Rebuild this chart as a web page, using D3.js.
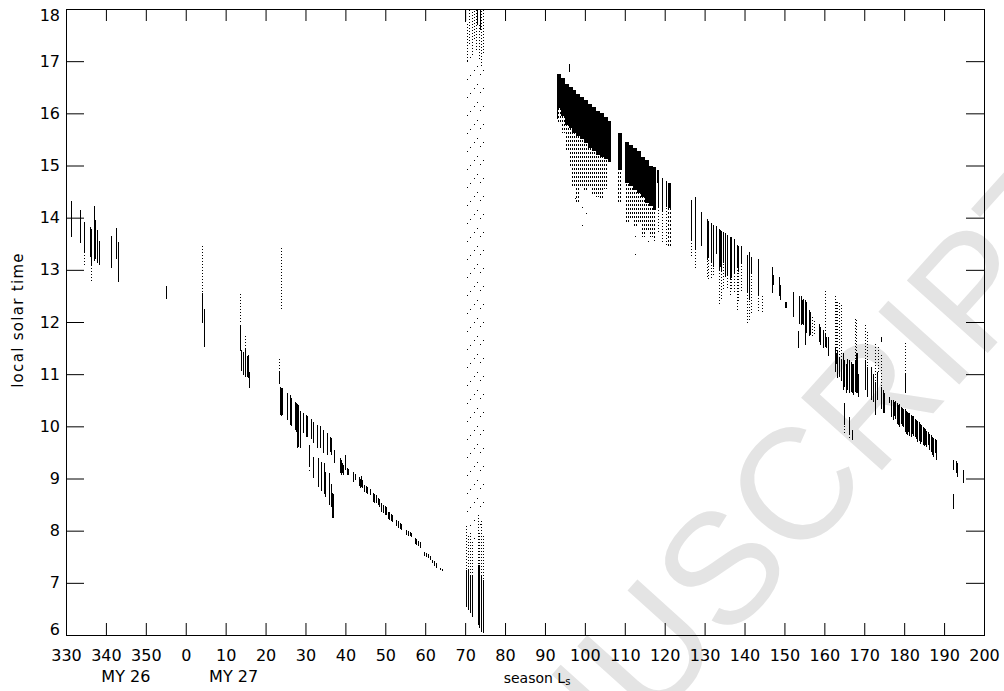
<!DOCTYPE html>
<html>
<head>
<meta charset="utf-8">
<style>
  body { margin: 0; background: #fff; }
  svg { display: block; }
</style>
<script src="https://d3js.org/d3.v7.min.js"></script>
</head>
<body>
<svg width="1004" height="691"></svg>
<script>
// Ls >= 330 belongs to MY 26, everything else to MY 27
var lsTicks = d3.range(-30, 201, 10);
var lstTicks = d3.range(6, 19, 1);
var yearLabels = [["MY 26", 345], ["MY 27", 12]];

// single observation columns: [Ls, LST top, LST bottom]
var solid = [
  [331.2,14.32,13.63],[333.5,14.15,13.52],[334.5,13.92,13.35],[336.0,13.83,13.25],[336.3,13.78,13.1],
  [337.0,14.22,13.16],[337.3,13.95,13.2],[337.7,13.76,13.13],[338.2,13.55,13.09],[341.2,13.65,13.03],
  [342.5,13.8,13.2],[343.0,13.54,12.77],[355.0,12.69,12.44],
  [4.0,12.56,11.99],[4.5,12.25,11.53],[13.5,11.94,11.45],[13.8,11.46,11.07],[14.3,11.43,10.98],
  [14.8,11.5,10.95],[15.3,11.34,10.95],[15.5,11.36,10.92],[15.8,11.05,10.73],
  [23.3,11.05,10.82],[23.5,10.76,10.22],[23.75,10.73,10.2],[24.0,10.74,10.22],
  [25.3,10.64,10.12],[26.0,10.6,10.03],[26.3,10.55,10.0],[27.3,10.47,9.93],[27.6,10.45,9.9],
  [28.0,10.42,9.58],[28.2,10.4,9.6],[28.7,10.3,9.58],[29.4,10.25,9.87],[30.2,10.22,9.8],[30.5,10.2,9.8],
  [30.8,9.64,9.22],[31.3,10.15,9.75],[31.8,9.42,9.01],[31.9,10.09,9.68],[32.9,10.03,9.58],[33.2,9.4,8.84],
  [33.6,10.0,9.58],[33.8,9.32,8.76],[34.4,9.93,9.49],[34.6,9.3,8.7],[35.0,9.13,8.65],[35.4,9.87,9.45],
  [35.8,9.1,8.5],[36.1,9.8,9.5],[36.4,9.78,9.45],[36.3,8.9,8.45],[36.7,8.72,8.24],[36.95,8.7,8.24],
  [37.2,9.55,9.3],[38.6,9.4,9.1],[38.9,9.35,9.07],[39.2,9.3,9.1],[39.4,9.25,9.07],[40.0,9.45,9.16],
  [40.4,9.2,9.07],[40.6,9.18,9.07],[41.9,9.13,8.94],[42.4,9.08,8.98],[43.4,9.03,8.85],[43.7,9.0,8.82],
  [44.0,9.05,8.84],[44.2,8.98,8.81],[44.6,8.88,8.75],[45.1,8.85,8.72],[45.4,8.83,8.7],[46.1,8.8,8.68],
  [46.9,8.72,8.55],[47.2,8.7,8.53],[47.6,8.68,8.53],[48.1,8.62,8.5],[48.5,8.6,8.45],[49.0,8.53,8.35],
  [49.4,8.5,8.33],[49.8,8.48,8.3],[50.2,8.45,8.3],[50.7,8.36,8.22],[51.0,8.35,8.2],[51.4,8.32,8.18],
  [51.8,8.3,8.17],[52.8,8.2,8.08],[53.2,8.18,8.05],[53.6,8.15,8.03],[54.0,8.12,8.01],[55.3,8.01,7.92],
  [55.7,7.99,7.9],[56.1,7.97,7.89],[56.5,7.95,7.87],[57.4,7.86,7.75],[57.8,7.84,7.72],[58.2,7.8,7.7],
  [58.6,7.78,7.67],[59.6,7.6,7.52],[60.1,7.58,7.5],[60.6,7.55,7.47],[61.1,7.52,7.44],[61.6,7.44,7.38],
  [62.2,7.42,7.33],[62.8,7.38,7.28],[63.6,7.28,7.24],[64.3,7.26,7.22],
  [70.0,18,17.75],[70.3,7.25,6.54],[70.8,7.25,6.48],[71.3,7.15,6.42],[71.8,7.15,6.35],[73.0,18,17.7],
  [73.1,7.34,6.19],[73.6,7.34,6.13],[73.8,18,17.6],[74.1,7.15,6.06],[74.4,7.05,6.04],
  [93.1,16.1,15.9],[96.0,16.95,16.8],
  [118.3,14.66,14.2],[119.2,14.76,14.1],[120.4,14.7,14.2],
  [126.7,14.34,13.57],[127.5,14.4,13.38],[129.2,14.1,13.46],[130.5,13.97,13.19],[130.9,13.94,13.25],
  [131.7,13.9,13.13],[132.1,13.86,13.06],[132.8,13.84,13.31],[133.6,13.79,13.0],[133.9,13.77,13.05],
  [134.2,13.75,12.95],[134.6,13.73,13.13],[135.0,13.7,12.87],[135.7,13.67,12.9],[136.3,13.63,12.8],
  [136.6,13.62,12.85],[137.3,13.6,12.93],[138.0,13.48,13.03],[138.4,13.46,12.95],[139.2,13.46,13.13],
  [140.6,13.28,12.55],[141.0,13.35,12.42],[141.5,13.25,12.93],[143.5,13.21,12.49],[146.9,13.05,12.55],
  [147.1,12.9,12.7],[148.7,12.86,12.49],[149.0,12.71,12.42],[150.1,12.39,12.26],[150.5,12.39,12.26],
  [152.2,12.58,12.1],[153.4,11.82,11.5],[153.7,12.49,11.97],[154.1,12.49,11.94],[154.4,12.42,11.97],
  [154.7,12.45,11.94],[155.1,12.42,11.56],[155.5,12.39,11.78],[156.2,12.23,11.73],[156.5,12.2,11.75],
  [158.6,11.97,11.62],[159.0,11.9,11.55],[159.6,11.84,11.5],
  [160.2,11.78,11.53],[160.5,11.72,11.5],[160.9,11.72,11.34],[162.6,11.5,11.05],[162.9,11.4,11.2],
  [163.2,11.45,10.92],[163.7,11.33,10.95],[164.1,11.27,10.86],[164.6,11.4,10.7],[165.0,11.27,10.76],
  [165.0,10.44,10.02],[165.4,11.2,10.63],[165.8,11.3,10.7],[166.3,11.27,10.63],[166.3,10.18,9.86],
  [166.6,11.24,10.66],[166.9,11.2,10.63],[166.9,9.93,9.73],[167.2,11.2,10.6],[167.6,11.27,10.65],
  [167.9,11.4,10.63],[168.2,11.4,10.63],[168.5,11.0,10.56],[170.3,11.27,10.7],[170.7,11.14,10.56],
  [171.8,11.14,10.5],[172.3,11.0,10.47],[172.8,10.85,10.21],[173.2,11.05,10.5],[174.1,11.72,11.62],
  [174.1,10.76,10.34],[174.6,10.7,10.25],[175.0,10.63,10.25],[176.1,10.57,10.44],[176.8,10.5,10.18],
  [177.2,10.5,10.12],[177.5,10.47,10.2],[177.8,10.48,10.15],[178.2,10.44,10.05],[178.5,10.4,10.02],
  [178.8,10.42,9.99],[179.1,10.38,10.05],[179.4,10.35,10.0],[179.7,10.33,9.98],[180.1,10.34,9.9],
  [180.4,10.3,9.85],[180.7,10.28,9.83],[181.0,10.25,9.9],[181.3,10.25,9.82],[181.6,10.22,9.8],
  [181.9,10.2,9.85],[182.2,10.2,9.82],[182.6,10.15,9.8],[183.0,10.12,9.75],[183.3,10.1,9.7],
  [183.6,10.08,9.72],[183.9,10.05,9.67],[184.2,10.02,9.7],[184.6,9.99,9.65],[184.9,9.97,9.62],
  [185.2,9.95,9.64],[185.5,9.92,9.61],[185.9,9.9,9.65],[186.3,9.86,9.55],[186.6,9.83,9.5],
  [186.9,9.8,9.45],[187.3,9.78,9.41],[187.6,9.75,9.48],
  [180.2,11.01,10.63],[188.0,9.73,9.35],[192.2,9.35,9.16],[192.3,8.71,8.42],[192.9,9.33,9.1],
  [193.3,9.3,9.03],[194.8,9.16,8.92]
];

var dotted = [
  [334.5,13.35,13.06],[336.2,13.25,12.78],[4.0,13.48,12.56],[13.6,12.54,12.0],[14.8,11.77,11.5],
  [23.3,11.31,11.05],[23.8,13.42,12.23],[30.8,9.2,9.1],
  [70.3,8.1,7.25],[70.8,7.9,7.25],[71.3,8.0,7.15],[71.8,7.8,7.15],[73.1,8.3,7.34],[73.6,8.0,7.34],
  [74.1,8.2,7.15],[74.4,7.9,7.05],
  [70.4,17.75,17.0],[71.0,18,17.3],[71.6,18,17.1],[72.2,18,17.4],[72.8,18,17.2],[73.4,17.7,17.0],
  [74.0,18,16.9],[74.6,18,17.2],
  [118.3,14.2,13.7],[119.2,14.1,13.54],[120.4,14.2,13.44],
  [126.7,13.57,13.25],[127.5,13.38,13.03],[130.5,13.19,12.84],[130.9,13.25,12.8],[131.7,13.13,12.8],
  [132.1,13.06,12.9],[133.6,13.0,12.3],[134.2,12.95,12.4],[134.6,13.13,12.61],[135.7,12.9,12.65],
  [136.3,12.8,12.52],[136.6,12.85,12.6],[137.3,12.93,12.58],[138.0,13.03,12.23],[138.4,12.95,12.4],
  [139.2,13.13,12.58],[140.6,12.55,11.97],[141.0,12.42,12.04],[141.5,12.93,12.13],[143.5,12.49,12.17],
  [144.5,12.52,12.17],[157.0,12.1,11.72],[157.4,12.05,11.75],
  [160.2,12.61,11.78],[162.6,12.49,11.5],[162.9,12.43,11.4],[163.2,12.4,11.45],[163.7,12.36,11.33],
  [164.1,12.36,11.27],[165.0,10.02,9.86],[166.3,9.86,9.73],[167.6,12.1,11.27],[167.9,12.06,11.4],
  [170.3,11.94,11.27],[170.7,11.84,11.14],[172.8,11.59,10.85],[173.5,11.52,11.0],[174.1,11.4,10.76],
  [180.2,11.62,11.01]
];

// thinly scattered single retrievals
var sparse = [
  [70.5,17.0,8.1],[71.3,17.3,8.0],[72.1,16.9,7.8],[72.9,17.2,8.3],[73.7,16.9,8.0],[74.5,17.2,8.2],
  [97.6,14.6,14.2],[99.3,14.3,13.7],[100.3,14.4,13.8],[112.5,13.83,13.19],[115.7,13.6,13.3]
];

// tight clusters: [Ls from, Ls to, LST top, LST bottom]
var blocks = [
  [92.9,93.9,16.75,16.1],[93.9,94.9,16.68,15.95],[94.9,95.9,16.57,15.78],[95.9,96.9,16.5,15.72],
  [96.9,97.9,16.45,15.62],[97.9,98.9,16.38,15.56],[98.9,99.9,16.32,15.5],[99.9,100.9,16.25,15.43],
  [100.9,101.9,16.18,15.33],[101.9,102.9,16.13,15.27],[102.9,103.9,16.04,15.2],[103.9,104.9,16.0,15.17],
  [104.9,105.9,15.93,15.12],[105.9,106.7,15.86,15.07],
  [108.3,109.3,15.62,14.91],[110.0,111.0,15.46,14.66],[111.0,112.0,15.39,14.6],[112.0,113.0,15.33,14.53],
  [113.0,114.0,15.27,14.47],[114.0,115.0,15.17,14.4],[115.0,116.0,15.1,14.28],[116.0,117.0,15.0,14.22],
  [117.0,117.7,14.97,14.15],[118.1,118.6,14.91,14.66],[120.8,121.6,14.66,14.19]
];

var dottedBlocks = [
  [92.9,93.9,16.1,15.84],[93.9,94.9,15.95,15.62],[94.9,95.9,15.78,15.3],[95.9,96.9,15.72,14.98],
  [96.9,97.9,15.62,14.6],[97.9,98.9,15.56,14.3],[98.9,99.9,15.5,14.6],[99.9,100.9,15.43,14.5],
  [100.9,101.9,15.33,14.6],[101.9,102.9,15.27,14.45],[102.9,103.9,15.2,14.4],[103.9,104.9,15.17,14.38],
  [104.9,105.9,15.12,14.55],
  [108.3,109.3,14.91,14.28],[110.0,111.0,14.66,13.9],[111.0,112.0,14.6,14.0],[112.0,113.0,14.53,13.83],
  [113.0,114.0,14.47,13.9],[114.0,115.0,14.4,13.63],[115.0,116.0,14.28,13.72],[116.0,117.0,14.22,13.63],
  [117.0,117.7,14.15,13.55],[120.8,121.6,14.19,13.44]
];

var svg = d3.select("svg");
var font = "DejaVu Sans, sans-serif";

var x = d3.scaleLinear().domain([-30, 200]).range([66, 984]);
var y = d3.scaleLinear().domain([6, 18]).range([635, 9]);
function unwrap(ls) { return ls >= 330 ? ls - 360 : ls; }
function px(ls) { return Math.round(x(unwrap(ls))) + 0.5; }

// watermark behind everything
var wm = svg.append("text")
    .attr("font-family", "Liberation Sans, Arial, sans-serif")
    .attr("font-size", 158)
    .attr("fill", "#e4e4e4")
    .text("MANUSCRIPT");
var skip = wm.node().getSubStringLength(0, 3);
wm.attr("x", -skip).attr("transform", "translate(650,728) rotate(-48)");

var defs = svg.append("defs");
defs.append("pattern")
    .attr("id", "dots")
    .attr("patternUnits", "userSpaceOnUse")
    .attr("width", 2).attr("height", 4)
  .append("rect")
    .attr("width", 1).attr("height", 2).attr("fill", "#000");

var g = svg.append("g").attr("shape-rendering", "crispEdges");

g.selectAll(".blk")
  .data(blocks)
  .enter().append("rect")
    .attr("x", function(d) { return Math.round(x(d[0])); })
    .attr("width", function(d) { return Math.max(1, Math.round(x(d[1]) - x(d[0]))); })
    .attr("y", function(d) { return y(d[2]); })
    .attr("height", function(d) { return y(d[3]) - y(d[2]); })
    .attr("fill", "#000");

g.selectAll(".dblk")
  .data(dottedBlocks)
  .enter().append("rect")
    .attr("x", function(d) { return Math.round(x(d[0])); })
    .attr("width", function(d) { return Math.max(1, Math.round(x(d[1]) - x(d[0]))); })
    .attr("y", function(d) { return y(d[2]); })
    .attr("height", function(d) { return y(d[3]) - y(d[2]); })
    .attr("fill", "url(#dots)");

function columns(data, dash, step) {
  g.append("g").selectAll("line")
    .data(data)
    .enter().append("line")
      .attr("x1", function(d) { return px(d[0]); })
      .attr("x2", function(d) { return px(d[0]); })
      .attr("y1", function(d) { return y(d[1]); })
      .attr("y2", function(d) { return Math.max(y(d[2]), y(d[1]) + 1); })
      .attr("stroke", "#000")
      .attr("stroke-width", 1)
      .attr("stroke-dasharray", dash)
      .attr("stroke-dashoffset", function(d, i) { return i * step; });
}
columns(solid, null, 0);
columns(dotted, "1,2", 1);
columns(sparse, "1,17", 7);

// axes
var ax = svg.append("g");
ax.append("g")
    .attr("transform", "translate(0,635)")
    .call(d3.axisBottom(x).tickValues(lsTicks).tickSize(-12).tickSizeOuter(0).tickPadding(15)
      .tickFormat(function(d) { return (d + 360) % 360; }));
ax.append("g")
    .attr("transform", "translate(0,9)")
    .call(d3.axisTop(x).tickValues(lsTicks).tickSize(-12).tickSizeOuter(0).tickFormat(""));
ax.append("g")
    .attr("transform", "translate(66,0)")
    .call(d3.axisLeft(y).tickValues(lstTicks).tickSize(-18).tickSizeOuter(0).tickPadding(6));
ax.append("g")
    .attr("transform", "translate(984,0)")
    .call(d3.axisRight(y).tickValues(lstTicks).tickSize(-18).tickSizeOuter(0).tickFormat(""));

ax.selectAll(".domain").remove();
ax.selectAll("g").attr("font-family", font).attr("font-size", 16);
ax.selectAll(".tick line").attr("stroke", "#000");
ax.selectAll(".tick text").attr("fill", "#000");
// end labels sit inside the frame
ax.selectAll(".tick text").filter(function(d) { return d === 18; }).attr("dy", "0.7em");
ax.selectAll(".tick text").filter(function(d) { return d === 6; }).attr("dy", "-0.05em");

svg.append("rect")
    .attr("x", 66.5).attr("y", 9.5)
    .attr("width", 918).attr("height", 626)
    .attr("fill", "none").attr("stroke", "#000").attr("shape-rendering", "crispEdges");

svg.selectAll(".my")
  .data(yearLabels)
  .enter().append("text")
    .attr("x", function(d) { return x(unwrap(d[1])); })
    .attr("y", 682)
    .attr("text-anchor", "middle")
    .attr("font-family", font).attr("font-size", 16)
    .text(function(d) { return d[0]; });

var xt = svg.append("text")
    .attr("x", 537).attr("y", 683)
    .attr("text-anchor", "middle")
    .attr("font-family", font).attr("font-size", 14);
xt.append("tspan").text("season L");
xt.append("tspan").attr("font-size", 10).attr("dy", 2).text("s");

svg.append("text")
    .attr("transform", "translate(23,320) rotate(-90)")
    .attr("text-anchor", "middle")
    .attr("font-family", font).attr("font-size", 15)
    .attr("letter-spacing", 1.3)
    .text("local solar time");
</script>
</body>
</html>
